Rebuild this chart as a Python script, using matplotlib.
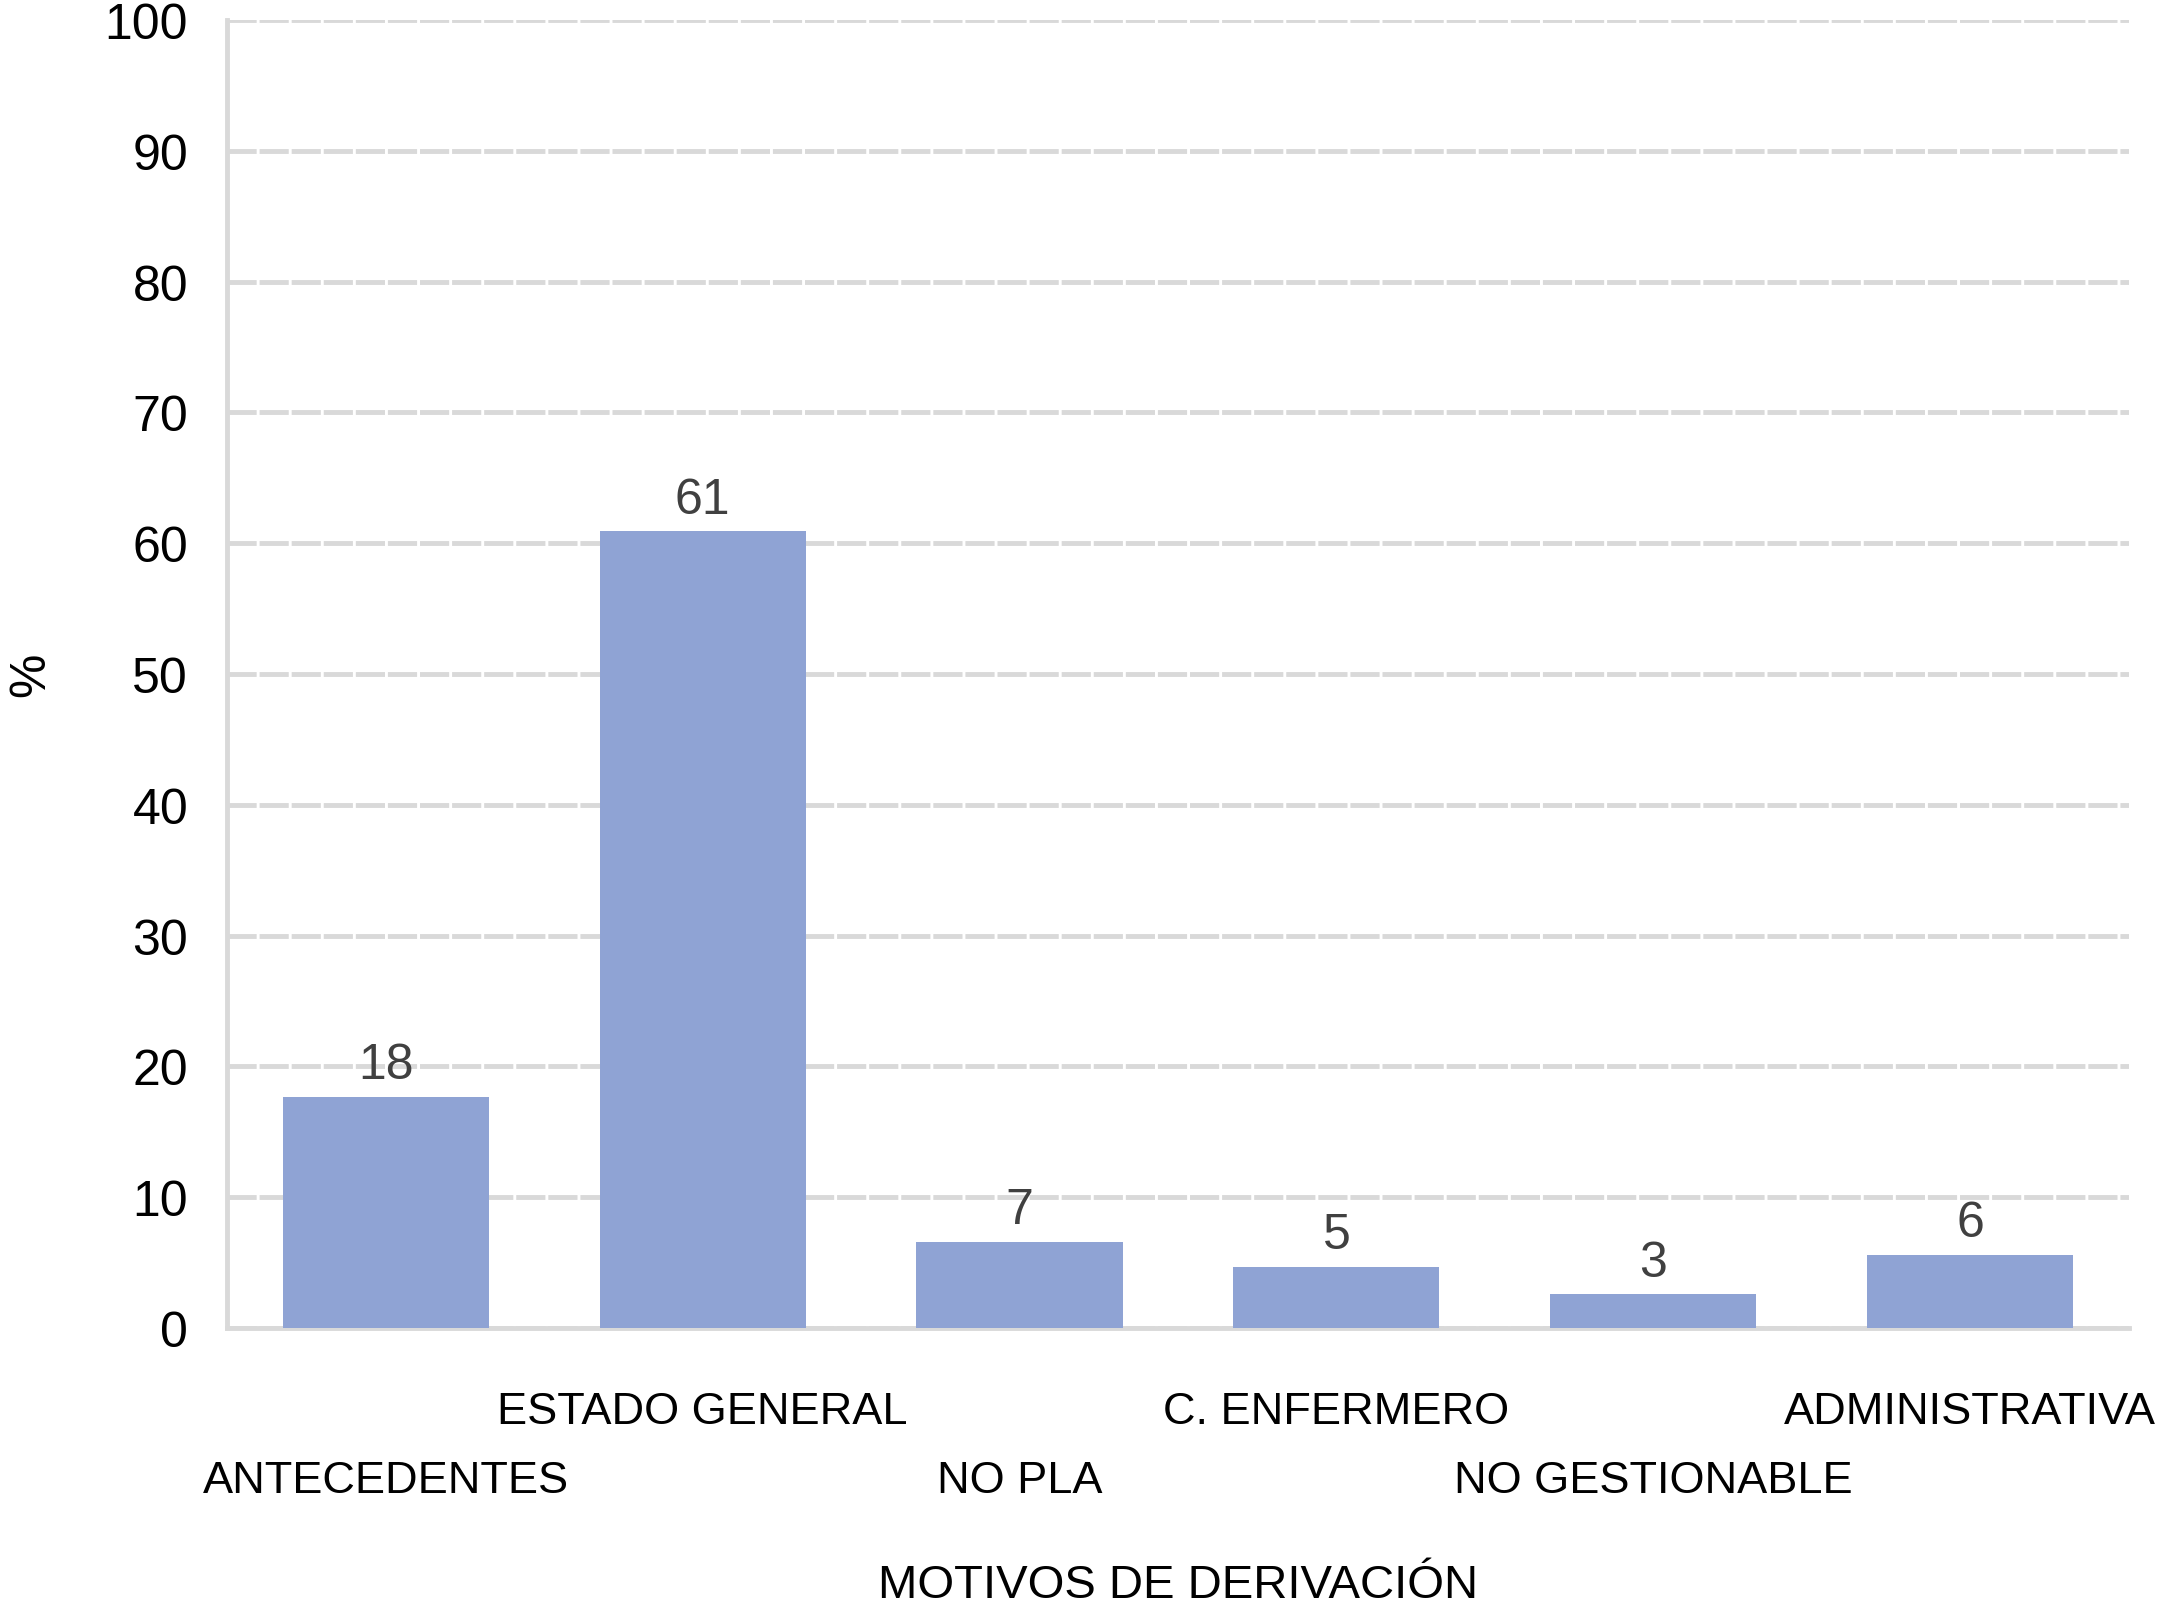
import matplotlib.pyplot as plt
import matplotlib.transforms as mtransforms
import numpy as np

# datos
categorias = ['ANTECEDENTES', 'ESTADO GENERAL', 'NO PLA', 'C. ENFERMERO',
              'NO GESTIONABLE', 'ADMINISTRATIVA']
porcentajes = [17.7, 60.9, 6.6, 4.7, 2.6, 5.6]
y_ticks = [0, 10, 20, 30, 40, 50, 60, 70, 80, 90, 100]

plt.rcParams.update({
    'font.family': ['Liberation Sans', 'DejaVu Sans'],
    'font.size': 36,
})

fig = plt.figure(figsize=(21.75, 16.08), dpi=100)
ax = fig.add_axes([0.1044, 0.1735, 0.8744, 0.8134])

x = np.arange(len(categorias))
barras = ax.bar(x, porcentajes, width=0.65, color='#8FA3D4', zorder=3)

# etiquetas de datos
for b, v in zip(barras, porcentajes):
    ax.annotate(f'{v:.0f}', (b.get_x() + b.get_width() / 2, v),
                xytext=(0, 6), textcoords='offset points',
                ha='center', va='bottom', color='#404040', fontsize=36)

ax.set_xlim(-0.5, len(categorias) - 0.5)
ax.set_ylim(0, 100)
ax.set_yticks(y_ticks)
ax.tick_params(axis='y', length=0, pad=28, labelsize=36)

# etiquetas escalonadas como en Excel (pares en la segunda fila)
ax.set_xticks(x)
ax.set_xticklabels(categorias)
ax.tick_params(axis='x', length=0, pad=45, labelsize=32.5)
bajar = mtransforms.ScaledTranslation(0, -0.69, fig.dpi_scale_trans)
for i, lbl in enumerate(ax.get_xticklabels()):
    if i % 2 == 0:
        lbl.set_transform(lbl.get_transform() + bajar)

# rejilla casi continua, gris claro
ax.grid(axis='y', color='#D9D9D9', linewidth=3.5, linestyle=(0, (6, 0.6)), zorder=0)
for s in ['top', 'right']:
    ax.spines[s].set_visible(False)
for s in ['left', 'bottom']:
    ax.spines[s].set_color('#D9D9D9')
    ax.spines[s].set_linewidth(3.5)

ax.set_xlabel('MOTIVOS DE DERIVACIÓN', fontsize=34, labelpad=45)
ax.set_ylabel('%', fontsize=36, labelpad=36)

fig.savefig('out.png', dpi=100)
